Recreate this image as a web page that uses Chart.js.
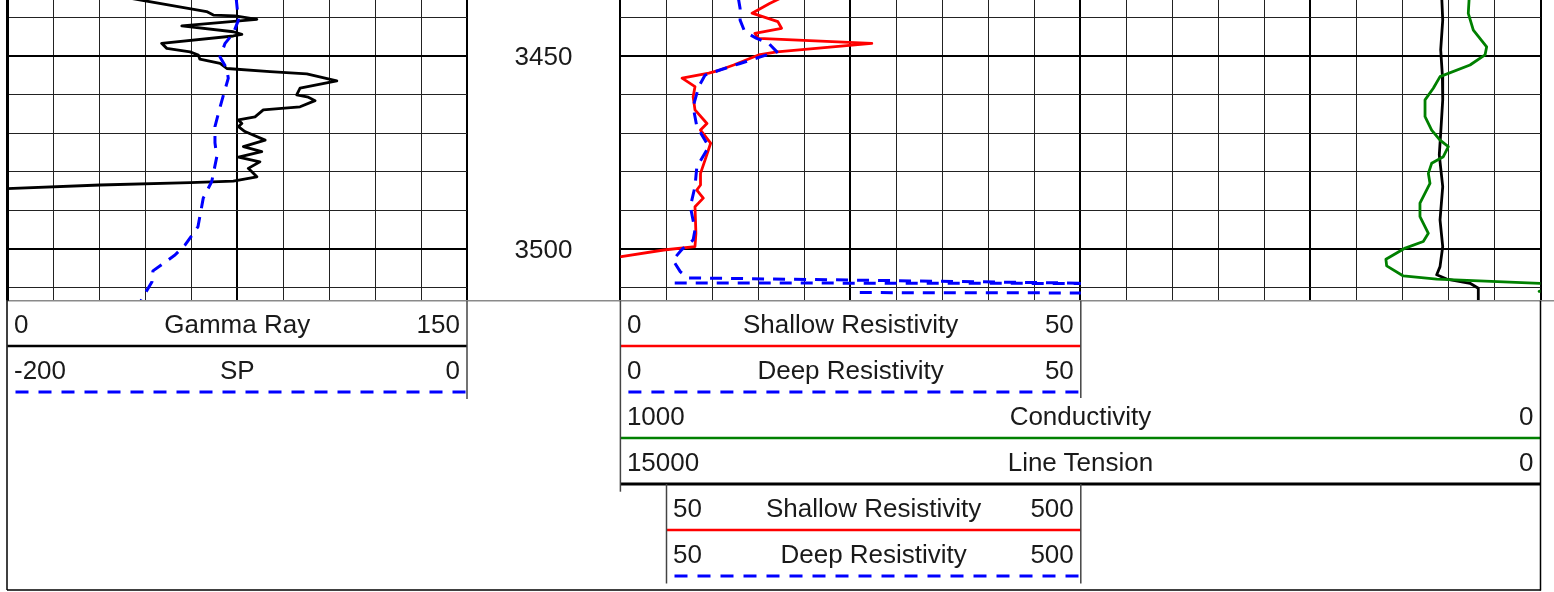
<!DOCTYPE html>
<html>
<head>
<meta charset="utf-8">
<script src="https://cdn.jsdelivr.net/npm/chart.js@4.4.0/dist/chart.umd.min.js"></script>
<style>
  html, body { margin: 0; padding: 0; background: #fff; }
  #log { position: relative; width: 1554px; height: 592px; overflow: hidden; background: #fff; }
  #log canvas, #log svg { position: absolute; top: 0; }
  svg text { font-family: "Liberation Sans", Arial, sans-serif; font-size: 26px; fill: #1a1a1a; }
</style>
</head>
<body>
<div id="log">
  <canvas id="track23" width="954" height="310" style="left:600px"></canvas>
  <canvas id="track2" width="500" height="310" style="left:600px"></canvas>
  <canvas id="track1" width="620" height="310" style="left:0"></canvas>
  <svg id="heads" width="1554" height="592" style="left:0"></svg>
</div>
<script>
// depth window shown in the picture
var depthTop = 3435.6, depthBase = 3513.3;
var depthGrid = [3440, 3450, 3460, 3470, 3480, 3490, 3500, 3510];
var depthLabels = [3450, 3500];

// scale ranges, left value first
var grRange = [0, 150];
var spRange = [-200, 0];
var resRange = [0, 50];
var resBackupRange = [50, 500];
var condRange = [1000, 0];
var tensionRange = [15000, 0];

// gamma ray
var grDepth = [3435.0, 3438.6, 3439.5, 3439.7, 3440.6, 3442.3, 3443.8, 3444.5, 3444.9, 3446.8, 3448.1, 3449.0, 3449.8, 3450.9, 3452.0, 3453.3, 3454.1, 3454.7, 3456.5, 3458.4, 3460.1, 3460.7, 3461.6, 3463.2, 3464.0, 3465.8, 3466.6, 3467.5, 3468.3, 3469.6, 3471.8, 3473.5, 3474.8, 3476.2, 3477.4, 3479.1, 3481.3, 3482.4, 3482.8, 3483.4, 3484.4];
var grValue = [39.0, 65.0, 67.2, 74.3, 81.4, 56.9, 73.7, 76.5, 73.7, 50.3, 52.0, 59.6, 62.3, 62.8, 69.4, 71.6, 85.7, 97.7, 107.5, 95.5, 94.4, 98.2, 100.4, 95.5, 83.5, 80.8, 75.4, 76.5, 75.4, 77.5, 84.1, 77.0, 83.0, 75.4, 82.4, 78.6, 81.4, 73.7, 59.6, 30.2, -2.0];

// SP
var spDepth = [3435.0, 3440.8, 3444.2, 3446.8, 3450.3, 3453.3, 3455.8, 3461.4, 3464.9, 3468.3, 3472.5, 3476.1, 3482.5, 3486.8, 3494.2, 3498.9, 3501.5, 3505.6, 3508.4, 3512.3, 3514.0];
var spValue = [-100.5, -99.5, -101.7, -105.3, -107.5, -104.6, -103.9, -106.6, -108.2, -109.7, -109.7, -108.9, -111.1, -114.8, -117.1, -122.7, -127.1, -136.7, -137.1, -141.0, -142.5];

// shallow resistivity
var srDepth = [3435.0, 3436.5, 3439.0, 3441.2, 3442.9, 3444.2, 3445.5, 3446.8, 3449.0, 3449.8, 3452.4, 3453.7, 3454.5, 3455.8, 3458.0, 3460.6, 3464.0, 3467.5, 3469.2, 3472.6, 3476.9, 3480.4, 3483.4, 3484.7, 3486.8, 3489.0, 3495.9, 3499.3, 3500.2, 3501.9, 3502.1];
var srValue = [17.5, 16.2, 14.3, 17.1, 17.5, 14.6, 15.0, 27.3, 17.0, 15.0, 12.3, 10.8, 9.6, 6.7, 8.1, 7.9, 8.1, 9.4, 8.7, 9.8, 9.2, 8.7, 8.7, 8.3, 9.0, 8.1, 8.2, 8.1, 4.7, 0.1, -0.6];

// deep resistivity
var drDepth = [3435.0, 3437.8, 3440.8, 3443.8, 3445.5, 3446.8, 3449.0, 3450.3, 3452.0, 3453.7, 3455.0, 3458.0, 3463.2, 3468.3, 3473.5, 3478.7, 3483.8, 3489.0, 3495.0, 3497.6, 3500.0, 3502.8, 3505.8, 3507.4, 3508.8, 3509.6];
var drValue = [12.8, 13.0, 13.0, 13.5, 14.8, 16.1, 17.0, 15.2, 13.0, 10.8, 9.2, 8.5, 7.9, 8.3, 9.6, 8.3, 8.1, 7.6, 8.1, 7.9, 6.7, 5.7, 6.5, 7.3, 51.0, 60.0];

// deep resistivity backup (50-500), null = no reading
var drbDepth = [3508.7, 3508.85, 3510.0, 3511.2, 3511.3];
var drbValue = [59, 520, null, 260, 520];

// conductivity
var cdDepth = [3435.0, 3439.05, 3443.4, 3447.7, 3449.8, 3452.4, 3455.4, 3458.4, 3461.4, 3465.75, 3469.2, 3471.8, 3473.5, 3476.1, 3477.8, 3480.4, 3483.0, 3488.1, 3491.6, 3495.9, 3498.0, 3499.7, 3502.6, 3504.3, 3506.9, 3507.7, 3508.8, 3509.6, 3510.9, 3511.6];
var cdValue = [77.5, 78.5, 73.0, 58.5, 60.3, 76.6, 109.2, 116.5, 125.5, 125.5, 118.3, 109.2, 100.2, 105.6, 118.3, 121.9, 120.1, 131.0, 131.0, 121.9, 127.4, 147.0, 168.0, 167.2, 149.1, 112.8, 0.6, -25.0, 1.5, -25.0];

// line tension
var ltDepth = [3435.0, 3440.8, 3448.5, 3455.0, 3461.4, 3470.0, 3475.6, 3483.8, 3492.4, 3499.3, 3504.5, 3506.6, 3507.7, 3508.8, 3510.1, 3514.0];
var ltValue = [1610, 1594, 1627, 1600, 1594, 1627, 1650, 1594, 1638, 1594, 1638, 1692, 1529, 1149, 1014, 1014];

function pts(depths, values) {
    return depths.map(function(d, i) { return { x: values[i], y: d }; });
}

function depthAxis(showGrid) {
    return {
        type: 'linear', reverse: true, min: depthTop, max: depthBase,
        display: showGrid,
        afterBuildTicks: function(scale) {
            scale.ticks = depthGrid.map(function(v) { return { value: v }; });
        },
        ticks: { display: false },
        border: { display: false },
        grid: {
            drawTicks: false,
            color: function(c) { return c.tick && c.tick.value % 50 === 0 ? '#000' : '#222'; },
            lineWidth: function(c) { return c.tick && c.tick.value % 50 === 0 ? 2 : 1; }
        }
    };
}

function hidden(min, max, reverse) {
    return { type: 'linear', min: min, max: max, reverse: !!reverse, display: false };
}

function curve(data, axis, color, width, dash) {
    return {
        data: data, xAxisID: axis, yAxisID: 'y',
        borderColor: color, borderWidth: width, borderDash: dash || [],
        borderJoinStyle: 'round', pointRadius: 0, tension: 0, spanGaps: false, fill: false
    };
}

var common = {
    indexAxis: 'y',
    responsive: false,
    animation: false,
    events: [],
    plugins: { legend: { display: false }, tooltip: { enabled: false } }
};

// depth numbers in the depth column, placed through the y scale
var depthText = {
    id: 'depthText',
    afterDraw: function(chart) {
        var ctx = chart.ctx, y = chart.scales.y;
        var cx = (chart.chartArea.right + chart.width) / 2;
        ctx.save();
        ctx.font = '26px "Liberation Sans", Arial, sans-serif';
        ctx.fillStyle = '#1a1a1a';
        ctx.textAlign = 'center';
        depthLabels.forEach(function(d) {
            ctx.fillText(String(d), cx, y.getPixelForValue(d) + 9);
        });
        ctx.restore();
    }
};

// track 1: gamma ray + SP
new Chart(document.getElementById('track1'), {
    type: 'line',
    data: { datasets: [
        curve(pts(spDepth, spValue), 'xSP', '#0000ff', 3, [12, 9]),
        curve(pts(grDepth, grValue), 'xGR', '#000000', 2.8)
    ] },
    options: Object.assign({}, common, {
        layout: { padding: { left: 7.5, right: 153, top: 0, bottom: 9.3 } },
        scales: {
            xGR: {
                type: 'linear', position: 'bottom', min: grRange[0], max: grRange[1],
                ticks: { display: false, stepSize: 15 },
                border: { display: false },
                grid: {
                    drawTicks: false,
                    color: function(c) { return c.tick.value % 75 === 0 ? '#000' : '#222'; },
                    lineWidth: function(c) { return c.tick.value % 75 === 0 ? 2 : 1; }
                }
            },
            xSP: hidden(spRange[0], spRange[1]),
            y: depthAxis(true)
        }
    }),
    plugins: [depthText]
});

// tracks 2 + 3 grid, conductivity and line tension
new Chart(document.getElementById('track23'), {
    type: 'line',
    data: { datasets: [
        curve(pts(cdDepth, cdValue), 'xCD', '#008000', 2.8),
        curve(pts(ltDepth, ltValue), 'xLT', '#000000', 2.8)
    ] },
    options: Object.assign({}, common, {
        layout: { padding: { left: 20.4, right: 13.5, top: 0, bottom: 9.3 } },
        scales: {
            xCD: {
                type: 'linear', position: 'bottom', reverse: true,
                min: condRange[1], max: condRange[0],
                ticks: { display: false, stepSize: 50 },
                border: { display: false },
                grid: {
                    drawTicks: false,
                    color: function(c) { return c.tick.value % 250 === 0 ? '#000' : '#222'; },
                    lineWidth: function(c) { return c.tick.value % 250 === 0 ? 2 : 1; }
                }
            },
            xLT: hidden(tensionRange[1], tensionRange[0], true),
            y: depthAxis(true)
        }
    })
});

// track 2: resistivity curves, clipped to the track
new Chart(document.getElementById('track2'), {
    type: 'line',
    data: { datasets: [
        curve(pts(drbDepth, drbValue), 'xRB', '#0000ff', 3, [12, 9]),
        curve(pts(drDepth, drValue), 'xR', '#0000ff', 3, [12, 9]),
        curve(pts(srDepth, srValue), 'xR', '#ff0000', 2.8)
    ] },
    options: Object.assign({}, common, {
        layout: { padding: { left: 20.4, right: 19.2, top: 0, bottom: 9.3 } },
        scales: {
            xR: hidden(resRange[0], resRange[1]),
            xRB: hidden(0, resBackupRange[1]),
            y: depthAxis(false)
        }
    })
});

// curve headers below the tracks
var svg = document.getElementById('heads');
var NS = 'http://www.w3.org/2000/svg';
function add(tag, attrs, txt) {
    var el = document.createElementNS(NS, tag);
    for (var k in attrs) el.setAttribute(k, attrs[k]);
    if (txt !== undefined) el.textContent = txt;
    svg.appendChild(el);
}
function line(x1, y1, x2, y2, color, w, dash) {
    var a = { x1: x1, y1: y1, x2: x2, y2: y2, stroke: color, 'stroke-width': w };
    if (dash) a['stroke-dasharray'] = dash;
    add('line', a);
}
function header(x1, x2, row, title, range, color, w, dashed) {
    var base = 333 + row * 46, ly = 346 + row * 46;
    add('text', { x: x1 + 6.5, y: base, 'text-anchor': 'start' }, String(range[0]));
    add('text', { x: (x1 + x2) / 2, y: base, 'text-anchor': 'middle' }, title);
    add('text', { x: x2 - 7, y: base, 'text-anchor': 'end' }, String(range[1]));
    if (dashed) line(x1 + 8, ly, x2, ly, color, w, '13 10');
    else line(x1, ly, x2, ly, color, w);
}

header(7.5, 467, 0, 'Gamma Ray', grRange, '#000', 2.5);
header(7.5, 467, 1, 'SP', spRange, '#0000ff', 3, true);
header(620.4, 1080.8, 0, 'Shallow Resistivity', resRange, '#ff0000', 2.5);
header(620.4, 1080.8, 1, 'Deep Resistivity', resRange, '#0000ff', 3, true);
header(620.4, 1540.5, 2, 'Conductivity', condRange, '#008000', 2.5);
header(620.4, 1540.5, 3, 'Line Tension', tensionRange, '#000', 3);
header(666.5, 1080.8, 4, 'Shallow Resistivity', resBackupRange, '#ff0000', 2.5);
header(666.5, 1080.8, 5, 'Deep Resistivity', resBackupRange, '#0000ff', 3, true);

// separators and frame
line(7, 300.7, 1554, 300.7, '#8a8a8a', 1.5);
line(467, 300.7, 467, 399, '#444', 1.5);
line(620.4, 300.7, 620.4, 491.7, '#444', 1.5);
line(1080.8, 300.7, 1080.8, 398, '#444', 1.5);
line(666.5, 484, 666.5, 583.5, '#444', 1.5);
line(1080.8, 484, 1080.8, 583.5, '#444', 1.5);
line(7.5, 0, 7.5, 300.7, '#000', 3);
line(7, 300.7, 7, 590, '#000', 1.5);
line(1540.5, 300.7, 1540.5, 590.5, '#000', 1.5);
line(7, 590, 1541, 590, '#000', 1.5);
</script>
</body>
</html>
